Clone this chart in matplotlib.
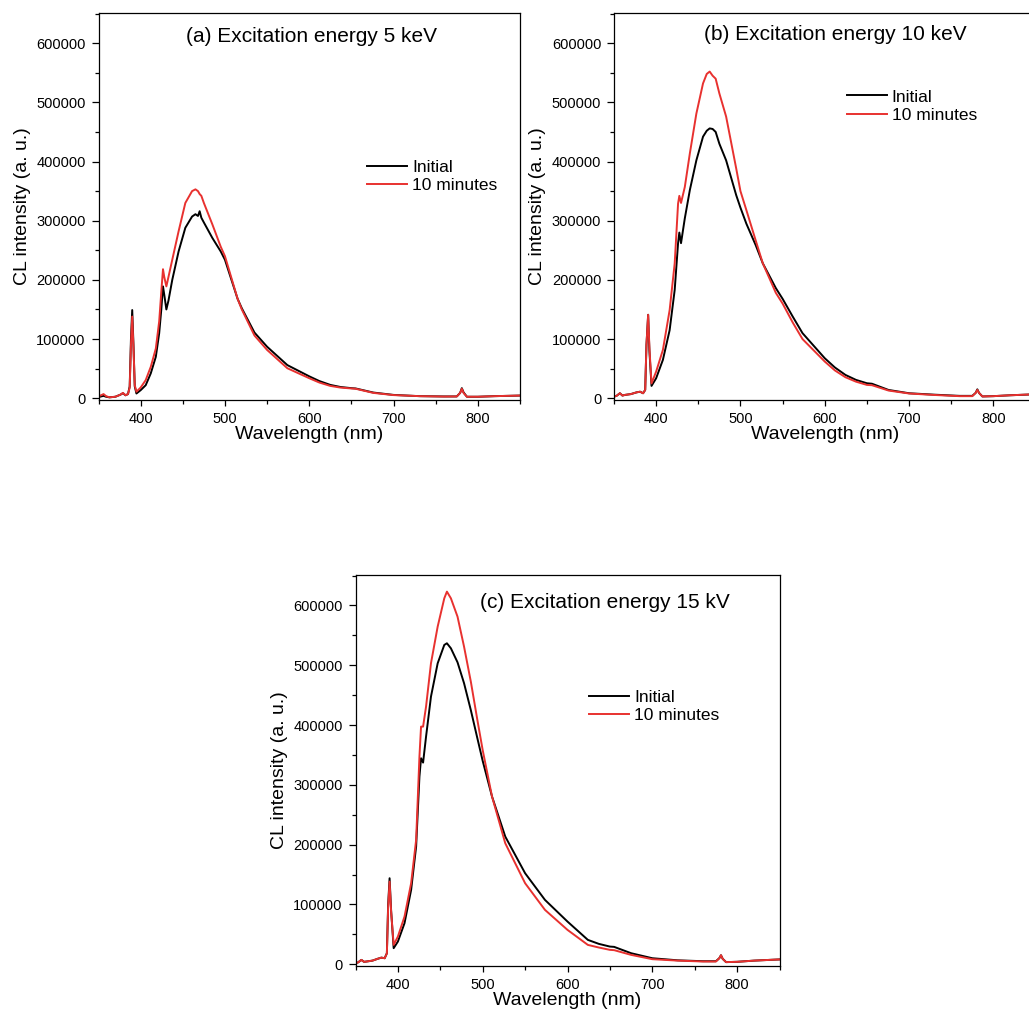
import matplotlib
matplotlib.use("Agg")
import matplotlib.pyplot as plt
from matplotlib.ticker import MultipleLocator

plt.rcParams['font.family'] = ['Liberation Sans', 'DejaVu Sans']

# ---- data ----
wl_a = [350, 353, 356, 359, 363, 370, 376, 379, 382, 385, 387, 388.5, 390, 391.5, 393, 395,
        400, 406, 412, 418, 422, 424.5, 426.5, 428, 430.5, 433, 437.5, 445, 453, 461, 465,
        468, 470, 472, 475, 485, 495, 500, 510, 515, 520, 535, 550, 574, 600, 612, 625, 637,
        650, 655, 676, 700, 731, 760, 775, 779, 781, 783, 787, 800, 820, 850]
init_a = [2000, 3000, 4000, 2500, 1500, 2500, 6000, 8500, 5000, 7000, 20000, 100000, 149000,
          90000, 20000, 8000, 13600, 22000, 42000, 70000, 110000, 150000, 189000, 175000,
          150000, 165000, 200000, 248000, 288000, 307000, 311000, 308000, 316000, 305000,
          297000, 271000, 248000, 234000, 190000, 168000, 152000, 111000, 87000, 56000, 37000,
          29000, 22500, 19000, 17000, 16500, 9600, 5600, 3500, 3000, 3000, 9000, 17000, 10000,
          2500, 2500, 3500, 4500]
min10_a = [3000, 5000, 7000, 3500, 1500, 2500, 6000, 9000, 5000, 7000, 18000, 90000, 138000,
           85000, 22000, 11000, 18000, 30600, 53000, 84000, 130000, 180000, 218000, 205000,
           189000, 205000, 234000, 282000, 330000, 350000, 353000, 350000, 345000, 342000,
           330000, 294000, 256000, 240000, 192000, 168000, 150000, 106000, 81600, 50700, 33800,
           26500, 20800, 18000, 16500, 16000, 9000, 5300, 3500, 2800, 3000, 9000, 16000, 9000,
           2500, 2500, 3500, 4500]

wl_b = [350, 353, 357, 360, 363, 370, 377, 381, 384.5, 387, 388.5, 390.5, 392, 394.5, 400,
        408, 416, 422, 426, 427.5, 429.5, 434, 440, 447.7, 455.6, 460, 463.5, 467, 470.6, 475,
        483, 495, 500, 507, 518, 526.5, 542, 550, 562, 573.6, 600, 612, 624.5, 637, 650, 656,
        675.6, 700, 730, 760, 775, 779, 781, 783, 787, 800, 820, 850]
init_b = [2800, 4000, 8400, 4500, 5600, 7000, 10000, 11000, 8400, 14000, 90000, 141000, 80000,
          20800, 33800, 64800, 115000, 183000, 262000, 280000, 262000, 304000, 352000, 402000,
          442000, 452000, 456000, 455000, 450000, 430000, 402000, 343000, 322000, 295000,
          259000, 228000, 186000, 168000, 138000, 110000, 67600, 52000, 39400, 31000, 25300,
          24500, 14000, 8400, 6000, 4000, 4000, 9000, 15000, 9000, 3000, 3500, 5000, 6700]
min10_b = [2800, 4000, 8400, 4500, 5600, 7000, 10000, 11000, 8400, 14000, 90000, 141000, 85000,
           25000, 45000, 81600, 149000, 228000, 329000, 342000, 330000, 357000, 414000, 481000,
           532000, 548000, 552000, 545000, 540000, 515000, 476000, 388000, 350000, 318000,
           267000, 228000, 178000, 160000, 128000, 100000, 62000, 47000, 35500, 28000, 22500,
           22000, 13000, 8000, 5500, 3500, 3500, 9000, 14000, 9000, 3000, 3500, 5000, 6700]

wl_c = [350, 353, 357, 360, 363, 370, 376, 380.5, 384.4, 387, 388.5, 390.2, 392, 395, 400,
        407.8, 415.6, 421.5, 425.4, 427.3, 429.7, 433.2, 439, 446.9, 454.7, 457.8, 462.5,
        470.3, 478, 486, 493.7, 500, 511, 526.6, 550, 573.4, 600, 624, 637, 650, 655, 675, 700,
        730, 760, 775, 779, 781, 783, 787, 800, 820, 850]
init_c = [1700, 3000, 7200, 4000, 4500, 6000, 9000, 11000, 10000, 18400, 100000, 143800, 90000,
          26800, 37900, 68600, 124300, 196800, 313800, 344500, 337200, 380700, 447600, 503300,
          534000, 536800, 528400, 505000, 470000, 425000, 378000, 340000, 280400, 213500,
          152200, 107600, 71300, 40700, 34000, 29500, 29000, 18400, 10000, 6500, 5000, 5000,
          10000, 15000, 9000, 3500, 4000, 6000, 8000]
min10_c = [1700, 3000, 7200, 4000, 4500, 6000, 9000, 11000, 10000, 18000, 95000, 138200, 88000,
           32300, 46300, 79700, 135500, 207900, 347300, 397400, 397400, 430900, 503300, 564700,
           612000, 623200, 612000, 581400, 531200, 472700, 408600, 358000, 280400, 202300,
           135500, 90900, 57400, 32300, 27900, 24000, 23500, 15600, 8400, 6000, 4500, 4500,
           10000, 15000, 9000, 3500, 4000, 6000, 8000]

titles = ["(a) Excitation energy 5 keV", "(b) Excitation energy 10 keV",
          "(c) Excitation energy 15 kV"]
series_names = ["Initial", "10 minutes"]
RED = "#e8312f"

W, H = 1029, 1013
fig = plt.figure(figsize=(W / 100, H / 100), dpi=100)

# axes boxes in pixels: left, top, right, bottom
boxes = [(98.5, 13, 520, 400), (614, 13, 1035.5, 400), (355.5, 575, 779.5, 966)]
title_pos = [(0.506, 0.924), (0.5255, 0.930), (0.587, 0.915)]
legend_pos = [(0.637, 0.5775), (0.552, 0.759), (0.551, 0.664)]
data = [(wl_a, init_a, min10_a), (wl_b, init_b, min10_b), (wl_c, init_c, min10_c)]

for i, (l, t, r, b) in enumerate(boxes):
    ax = fig.add_axes([l / W, 1 - b / H, (r - l) / W, (b - t) / H])
    wl, s1, s2 = data[i]
    ax.plot(wl, s1, color="black", lw=1.4, label=series_names[0])
    ax.plot(wl, s2, color=RED, lw=1.4, label=series_names[1])

    ax.set_xlim(350, 850)
    ax.set_ylim(-3000, 651000)
    ax.set_xticks([400, 500, 600, 700, 800])
    ax.xaxis.set_minor_locator(MultipleLocator(50))
    yt = list(range(0, 600001, 100000))
    ax.set_yticks(yt)
    ax.set_yticklabels([str(v) for v in yt])
    ax.yaxis.set_minor_locator(MultipleLocator(50000))

    ax.tick_params(axis="y", which="major", length=5.4, width=0.9, pad=3.8, labelsize=10.5)
    ax.tick_params(axis="y", which="minor", length=3.2, width=0.9)
    ax.tick_params(axis="x", which="major", length=4.4, width=0.9, pad=4.0, labelsize=10.5)
    ax.tick_params(axis="x", which="minor", length=3.2, width=0.9)
    for sp in ax.spines.values():
        sp.set_linewidth(0.9)

    ax.set_xlabel("Wavelength (nm)", fontsize=14, labelpad=0)
    ax.set_ylabel("CL intensity (a. u.)", fontsize=14, labelpad=4)

    tx, ty = title_pos[i]
    ax.text(tx, ty, titles[i], transform=ax.transAxes, ha="center", va="baseline", fontsize=15)

    lx, ly = legend_pos[i]
    ax.legend(loc="center left", bbox_to_anchor=(lx, ly), frameon=False, fontsize=12.5,
              borderpad=0, borderaxespad=0, handlelength=2.3, handletextpad=0.3,
              labelspacing=0.2)

fig.savefig("out.png", dpi=100)
